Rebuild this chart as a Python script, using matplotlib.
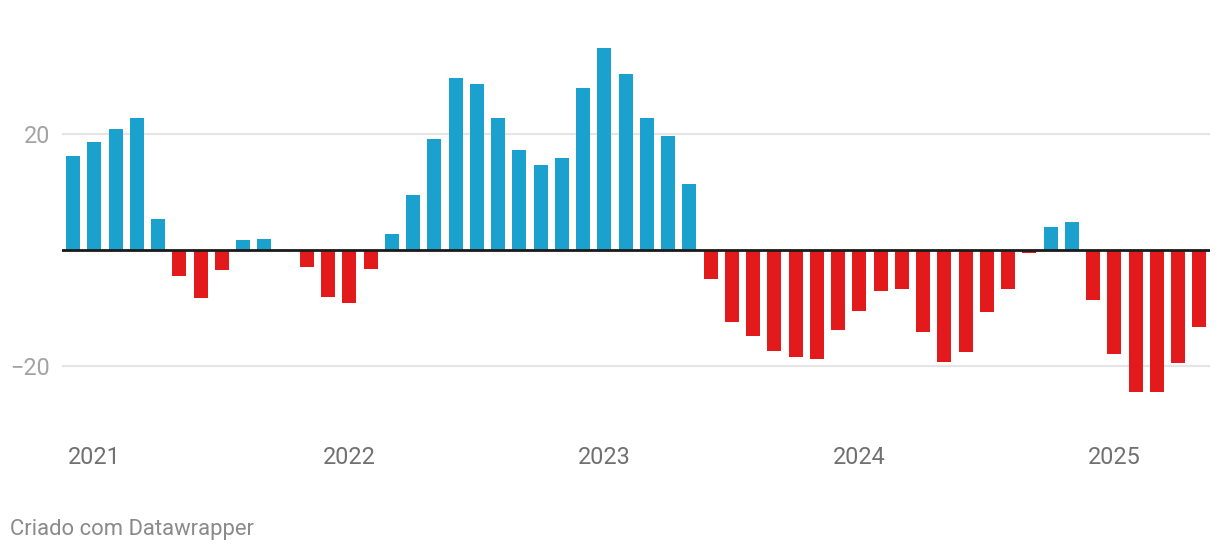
import matplotlib
matplotlib.use("Agg")
import matplotlib.pyplot as plt

plt.rcParams['font.family'] = ['Roboto', 'DejaVu Sans']

# Monthly values, Dec 2020 .. May 2025
months = [
    "2020-12", "2021-01", "2021-02", "2021-03", "2021-04", "2021-05", "2021-06",
    "2021-07", "2021-08", "2021-09", "2021-10", "2021-11", "2021-12",
    "2022-01", "2022-02", "2022-03", "2022-04", "2022-05", "2022-06",
    "2022-07", "2022-08", "2022-09", "2022-10", "2022-11", "2022-12",
    "2023-01", "2023-02", "2023-03", "2023-04", "2023-05", "2023-06",
    "2023-07", "2023-08", "2023-09", "2023-10", "2023-11", "2023-12",
    "2024-01", "2024-02", "2024-03", "2024-04", "2024-05", "2024-06",
    "2024-07", "2024-08", "2024-09", "2024-10", "2024-11", "2024-12",
    "2025-01", "2025-02", "2025-03", "2025-04", "2025-05",
]
values = [
    16.2, 18.6, 20.8, 22.7, 5.3, -4.5, -8.3, -3.4, 1.7, 1.8, 0.0, -2.9,
    -8.1, -9.1, -3.3, 2.7, 9.4, 19.1, 29.6, 28.6, 22.7, 17.2, 14.6, 15.8,
    27.9, 34.8, 30.3, 22.7, 19.6, 11.3, -5.0, -12.5, -14.9, -17.5, -18.4, -18.8,
    -13.8, -10.6, -7.1, -6.8, -14.2, -19.4, -17.6, -10.7, -6.8, -0.5, 3.9, 4.8,
    -8.7, -18.0, -24.5, -24.5, -19.5, -13.3,
]
year_labels = ["2021", "2022", "2023", "2024", "2025"]
y_ticks = [20, -20]
y_tick_labels = ["20", "\u221220"]

BLUE = "#1aa1ce"
RED = "#e31a1c"

W, H = 1220, 554
fig = plt.figure(figsize=(W / 100, H / 100), dpi=100)
ax_left, ax_right, ax_top, ax_bottom = 62, 1210, 40, 400
ax = fig.add_axes([ax_left / W, (H - ax_bottom) / H,
                   (ax_right - ax_left) / W, (ax_bottom - ax_top) / H])

x = list(range(len(values)))
colors = [BLUE if v >= 0 else RED for v in values]
ax.bar(x, values, width=0.66, color=colors, zorder=3)

for t in y_ticks:
    ax.axhline(t, color="#e5e5e5", lw=1.6, zorder=1)
ax.axhline(0, color="#1a1a1a", lw=2.0, zorder=4)

ax.set_xlim(-0.52, 53.5)
ax.set_ylim(-25.9, 36.2)

for s in ax.spines.values():
    s.set_visible(False)

ax.set_yticks(y_ticks)
ax.set_yticklabels(y_tick_labels, fontsize=16.8, color="#a3a3a3")
ax.tick_params(axis="y", length=0, pad=8.5)

jan_idx = [months.index(f"{y}-01") for y in year_labels]
ax.set_xticks(jan_idx)
ax.set_xticklabels(year_labels, fontsize=16.8, color="#707070")
ax.tick_params(axis="x", length=0, pad=33)

fig.text(10 / W, 1 - 529 / H, "Criado com Datawrapper", fontsize=15.8,
         color="#8a8a8a", ha="left", va="center")

fig.savefig("out.png", dpi=100, facecolor="white")
